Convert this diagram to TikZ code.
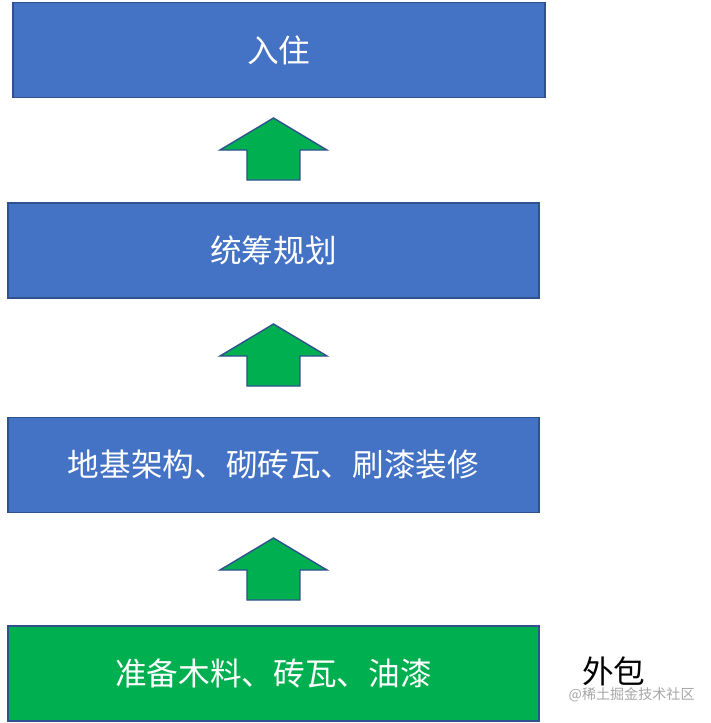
\documentclass[tikz,border=0pt]{standalone}
\usepackage{fontspec}
\setmainfont{Noto Sans CJK SC}
\usetikzlibrary{positioning}
\definecolor{boxblue}{HTML}{4472C4}
\definecolor{boxedge}{HTML}{2F528F}
\definecolor{boxgreen}{HTML}{00B050}

\begin{document}
\begin{tikzpicture}
    [x=0.01cm,y=-0.01cm,
     stage/.style={draw=boxedge,line width=0.4pt,fill=boxblue,text=white,
        minimum width=5.31cm,minimum height=0.95cm,inner sep=0pt,
        font=\fontsize{9}{10}\selectfont},
     upblock/.style={fill=boxgreen,draw=boxedge,line width=0.4pt}]
    \useasboundingbox (0,0) rectangle (711,723);

    \node[stage,minimum width=5.32cm] (live) at (279,50) {入住};
    \node[stage] (plan) at (273.5,250.5) {统筹规划};
    \node[stage] (build) at (273.5,465) {地基架构、砌砖瓦、刷漆装修};
    \node[stage,fill=boxgreen] (prep) at (273.5,673.5) {准备木料、砖瓦、油漆};

    % block arrows between the stages
    \foreach \tip in {118,324,538}
        \draw[upblock] (273.5,\tip) -- (327,\tip+32) -- (300,\tip+32) -- (300,\tip+62)
            -- (247,\tip+62) -- (247,\tip+32) -- (220,\tip+32) -- cycle;

    \node[right=0.3cm of prep,font=\fontsize{9}{10}\selectfont,yshift=0.02cm] (outer) {外包};
    \node[text=black!35,font=\fontsize{4}{5}\selectfont,anchor=east] (mark) at (707,695) {@稀土掘金技术社区};
\end{tikzpicture}
\end{document}
